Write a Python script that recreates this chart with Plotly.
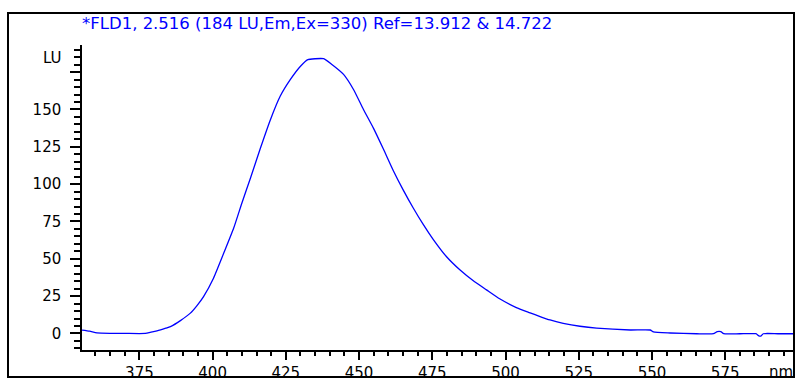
import plotly.graph_objects as go

# Emission spectrum (wavelength in nm, intensity in LU)
wavelength_nm = [355.4, 358.0, 360.5, 365.0, 370.0, 377.0, 379.0, 381.0, 384.0, 385.6,
                 389.0, 392.4, 394.6, 396.9, 400.3, 403.8, 407.2, 410.0, 412.9, 416.3,
                 419.7, 423.1, 426.5, 430.0, 432.5, 435.0, 437.9, 440.5, 444.7, 448.1,
                 451.5, 454.9, 458.3, 461.7, 465.1, 468.5, 471.9, 475.3, 479.8, 484.4,
                 488.9, 493.5, 498.0, 503.7, 508.4, 511.8, 515.2, 519.7, 525.4, 531.1,
                 542.6, 549.4, 550.5, 556.2, 565.3, 571.0, 572.3, 573.5, 574.5, 580.0,
                 585.5, 586.5, 587.3, 588.0, 593.0, 598.5]
intensity_lu = [2.2, 1.5, 0.3, 0.0, 0.0, 0.0, 0.8, 1.7, 3.5, 4.6,
                8.6, 13.6, 18.5, 24.7, 37.0, 53.8, 70.6, 87.4, 104.0, 124.0,
                143.0, 159.0, 170.0, 179.0, 183.4, 184.0, 184.0, 180.5, 173.5, 163.4,
                150.0, 137.5, 123.5, 109.0, 96.0, 84.0, 73.0, 63.0, 51.5, 42.6,
                35.4, 29.2, 23.2, 17.3, 13.8, 11.3, 9.0, 6.8, 4.8, 3.5,
                2.3, 2.3, 1.0, 0.3, -0.2, -0.2, 1.2, 1.2, -0.2, -0.2,
                -0.2, -1.6, -1.6, -0.2, -0.2, -0.2]

x_tick_vals = [375, 400, 425, 450, 475, 500, 525, 550, 575]
x_tick_text = ["375", "400", "425", "450", "475", "500", "525", "550", "575"]
y_tick_vals = [0, 25, 50, 75, 100, 125, 150, 175]
y_tick_text = ["0", "25", "50", "75", "100", "125", "150", ""]

title_text = "*FLD1, 2.516 (184 LU,Em,Ex=330) Ref=13.912 & 14.722"
x_unit = "nm"
y_unit = "LU"

W, H = 798, 378
L, R, T, B = 82, 4, 45, 28
pw, ph = W - L - R, H - T - B

def px_x(p):
    return (p - L) / pw

def px_y(p):
    return (H - B - p) / ph

font = "DejaVu Sans"

fig = go.Figure()
fig.add_trace(go.Scatter(x=wavelength_nm, y=intensity_lu, mode="lines",
                         line=dict(color="#0000FF", width=1.3, shape="spline", smoothing=0.5),
                         hoverinfo="skip", showlegend=False))

fig.update_layout(
    template="none",
    width=W, height=H,
    margin=dict(l=L, r=R, t=T, b=B, pad=0, autoexpand=False),
    paper_bgcolor="white", plot_bgcolor="white",
    showlegend=False,
    xaxis=dict(range=[355.4, 598.5], showgrid=False, zeroline=False, automargin=False,
               showline=True, linecolor="black", linewidth=1.5,
               ticks="outside", ticklen=8, tickwidth=1.5, tickcolor="black",
               tickvals=x_tick_vals, ticktext=x_tick_text,
               tickfont=dict(family=font, size=15, color="black"),
               ticklabelstandoff=0,
               minor=dict(ticks="outside", ticklen=4, tickwidth=1.5, tickcolor="black",
                          dtick=5, tick0=0, showgrid=False)),
    yaxis=dict(range=[-11.1, 193.2], showgrid=False, zeroline=False, automargin=False,
               showline=True, linecolor="black", linewidth=1.5,
               ticks="outside", ticklen=10, tickwidth=1.5, tickcolor="black",
               tickvals=y_tick_vals, ticktext=y_tick_text,
               tickfont=dict(family=font, size=15, color="black"),
               ticklabelstandoff=6,
               minor=dict(ticks="outside", ticklen=6, tickwidth=1.5, tickcolor="black",
                          dtick=5, tick0=0, showgrid=False)),
)

fig.add_shape(type="rect", xref="paper", yref="paper",
              x0=px_x(8), x1=px_x(794), y0=px_y(377), y1=px_y(13),
              line=dict(color="black", width=2), layer="above")

fig.add_annotation(text=title_text, xref="paper", yref="paper",
                   x=px_x(80), y=px_y(24), xanchor="left", yanchor="middle",
                   showarrow=False, font=dict(family=font, size=16.5, color="#0000FF"))
fig.add_annotation(text=y_unit, xref="paper", yref="paper",
                   x=px_x(64), y=px_y(58), xanchor="right", yanchor="middle",
                   showarrow=False, font=dict(family=font, size=15, color="black"))
fig.add_annotation(text=x_unit, xref="paper", yref="paper",
                   x=px_x(795), y=px_y(372), xanchor="right", yanchor="middle",
                   showarrow=False, font=dict(family=font, size=15, color="black"))

fig.write_html("out.html", config={"displayModeBar": False},
               post_script="document.body.style.margin='0';document.body.style.overflow='hidden';")
